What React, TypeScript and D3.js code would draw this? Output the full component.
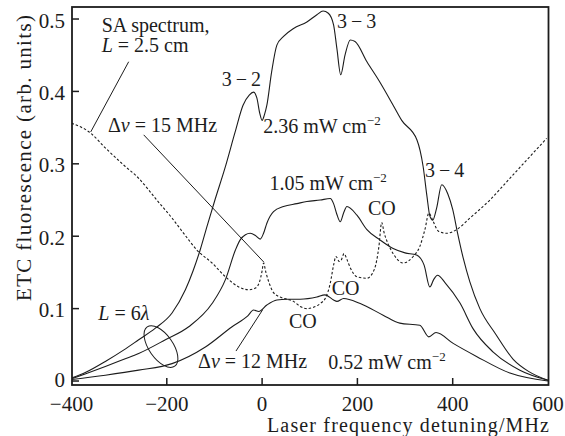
import React from "react";
import * as d3 from "d3";

const W = 565;
const H = 436;

// Axis ticks
const xTickValues = [-400, -200, 0, 200, 400, 600];
const xTickLabels = ["\u2212400", "\u2212200", "0", "200", "400", "600"];
const yTickValues = [0, 0.1, 0.2, 0.3, 0.4, 0.5];
const yTickLabels = ["0", "0.1", "0.2", "0.3", "0.4", "0.5"];

// 2.36 mW cm^-2 curve
const detuning236 = [-400, -370, -329, -290, -259, -224, -189, -161, -145, -130, -115, -99, -78, -57, -40, -27, -18, -11, -5, 0, 5, 10, 20, 31, 45, 66, 94, 115, 128, 139, 150, 157, 165, 174, 185, 195, 220, 247, 275, 293, 325, 338, 346, 352, 358, 366, 377, 390, 400, 410, 422, 436, 457, 490, 527, 560, 600];
const signal236 = [0.004, 0.012, 0.027, 0.043, 0.057, 0.073, 0.094, 0.126, 0.152, 0.181, 0.215, 0.25, 0.294, 0.343, 0.381, 0.395, 0.399, 0.391, 0.37, 0.36, 0.368, 0.381, 0.427, 0.464, 0.476, 0.487, 0.496, 0.506, 0.511, 0.508, 0.492, 0.459, 0.423, 0.45, 0.471, 0.469, 0.441, 0.413, 0.381, 0.36, 0.333, 0.296, 0.255, 0.228, 0.222, 0.238, 0.271, 0.258, 0.237, 0.205, 0.17, 0.137, 0.1, 0.065, 0.03, 0.013, 0.001];

// 1.05 mW cm^-2 curve
const detuning105 = [-400, -370, -329, -290, -259, -203, -154, -105, -77, -56, -46, -35, -25, -14, -4, 3, 10, 24, 45, 73, 94, 122, 143, 150, 157, 164, 171, 178, 199, 220, 247, 275, 300, 324, 340, 352, 360, 368, 385, 415, 443, 485, 541, 600];
const signal105 = [0.003, 0.01, 0.02, 0.03, 0.038, 0.057, 0.075, 0.107, 0.14, 0.181, 0.195, 0.202, 0.204, 0.201, 0.196, 0.204, 0.218, 0.234, 0.241, 0.245, 0.248, 0.25, 0.252, 0.245, 0.23, 0.22, 0.232, 0.241, 0.229, 0.209, 0.195, 0.183, 0.177, 0.174, 0.16, 0.13, 0.14, 0.146, 0.135, 0.108, 0.072, 0.04, 0.015, 0.001];

// 0.52 mW cm^-2 curve
const detuning052 = [-400, -329, -259, -189, -119, -63, -30, -18, -7, 10, 31, 52, 80, 115, 132, 150, 157, 171, 206, 254, 289, 331, 350, 365, 401, 450, 520, 600];
const signal052 = [0.002, 0.008, 0.015, 0.024, 0.047, 0.075, 0.09, 0.098, 0.096, 0.105, 0.112, 0.113, 0.113, 0.116, 0.119, 0.112, 0.11, 0.114, 0.107, 0.091, 0.08, 0.077, 0.061, 0.067, 0.052, 0.034, 0.011, 0.0];

// Saturated absorption (SA) spectrum, L = 2.5 cm (dashed)
const detuningSA = [-400, -361, -329, -290, -259, -221, -189, -160, -137, -105, -77, -49, -28, -15, -6, 0, 3, 8, 15, 24, 38, 52, 66, 80, 94, 108, 122, 134, 143, 150, 155, 162, 166, 172, 178, 186, 199, 220, 236, 245, 251, 256, 264, 275, 296, 317, 331, 342, 350, 358, 370, 387, 408, 436, 478, 520, 548, 597];
const signalSA = [0.356, 0.343, 0.322, 0.298, 0.28, 0.25, 0.225, 0.2, 0.181, 0.163, 0.144, 0.13, 0.126, 0.128, 0.136, 0.152, 0.163, 0.15, 0.135, 0.122, 0.116, 0.113, 0.11, 0.103, 0.1, 0.102, 0.107, 0.116, 0.135, 0.16, 0.172, 0.165, 0.167, 0.176, 0.168, 0.155, 0.144, 0.142, 0.155, 0.185, 0.219, 0.205, 0.19, 0.176, 0.163, 0.172, 0.186, 0.21, 0.232, 0.222, 0.207, 0.204, 0.209, 0.225, 0.25, 0.28, 0.3, 0.335];

const FONT = "'Liberation Serif', 'Times New Roman', 'DejaVu Serif', serif";
const INK = "#1c1c1c";

export default function App() {
  const x = d3.scaleLinear().domain([-400, 600]).range([71.5, 548]);
  const y = d3.scaleLinear().domain([-0.0055, 0.5166]).range([385, 7]);

  const line = d3
    .line<[number, number]>()
    .x((d) => x(d[0]))
    .y((d) => y(d[1]))
    .curve(d3.curveMonotoneX);

  const zip = (a: number[], b: number[]) => a.map((v, i) => [v, b[i]] as [number, number]);

  const curves = [
    { d: line(zip(detuning236, signal236)), dashed: false },
    { d: line(zip(detuning105, signal105)), dashed: false },
    { d: line(zip(detuning052, signal052)), dashed: false },
    { d: line(zip(detuningSA, signalSA)), dashed: true },
  ];

  const fs = 20;
  const sup = (t: string) => (
    <tspan fontSize={13} dy={-8}>
      {t}
    </tspan>
  );

  const leaders = [
    [[-280, 0.441], [-359.7, 0.344]],
    [[-248.5, 0.34], [4, 0.164]],
    [[-54.8, 0.0414], [0.8, 0.098]],
  ];

  const ex = x(-212.2);
  const ey = y(0.0476);

  return (
    <svg
      width={W}
      height={H}
      style={{ position: "absolute", left: 0, top: 0, display: "block", background: "#fff" }}
      fontFamily={FONT}
    >
      <rect x={0} y={0} width={W} height={H} fill="#fff" />
      <defs>
        <clipPath id="clip">
          <rect x={72} y={7} width={476.5} height={378} />
        </clipPath>
      </defs>
      {/* curves */}
      <g clipPath="url(#clip)">
        {curves.map((c, i) => (
          <path
            key={i}
            d={c.d || ""}
            fill="none"
            stroke={INK}
            strokeWidth={1.1}
            strokeDasharray={c.dashed ? "2.5,2" : undefined}
          />
        ))}
      </g>

      {/* frame */}
      <rect x={72} y={7} width={476.5} height={378} fill="none" stroke={INK} strokeWidth={1.8} />

      {/* ticks */}
      {xTickValues.map((t, i) => (
        <g key={"xt" + i}>
          {i > 0 && i < xTickValues.length - 1 && (
            <line x1={x(t)} x2={x(t)} y1={385} y2={378} stroke={INK} strokeWidth={1.5} />
          )}
          <text x={x(t)} y={411} textAnchor="middle" fontSize={21} fill={INK}>
            {xTickLabels[i]}
          </text>
        </g>
      ))}
      {yTickValues.map((t, i) => (
        <g key={"yt" + i}>
          <line x1={72} x2={79} y1={y(t)} y2={y(t)} stroke={INK} strokeWidth={1.5} />
          <text x={65} y={y(t) + (i === 0 ? 6 : 8.5)} textAnchor="end" fontSize={21} fill={INK}>
            {yTickLabels[i]}
          </text>
        </g>
      ))}

      {/* axis titles */}
      <text
        x={549}
        y={432}
        textAnchor="end"
        fontSize={20}
        textLength={282}
        lengthAdjust="spacing"
        fill={INK}
      >
        Laser frequency detuning/MHz
      </text>
      <text
        transform={`translate(31,158) rotate(-90)`}
        textAnchor="middle"
        fontSize={21}
        textLength={286}
        lengthAdjust="spacing"
        fill={INK}
      >
        ETC fluorescence (arb. units)
      </text>

      {/* annotations */}
      <g fontSize={fs} fill={INK}>
        <text x={x(-336.6)} y={y(0.482)}>SA spectrum,</text>
        <text x={x(-336.6)} y={y(0.454)}>
          <tspan fontStyle="italic">L</tspan> = 2.5 cm
        </text>
        <text x={x(-323.4)} y={y(0.344)}>
          Δ<tspan fontStyle="italic">ν</tspan> = 15 MHz
        </text>
        <text x={x(-84.8)} y={y(0.4075)}>3{"\u2009\u2212\u2009"}2</text>
        <text x={x(157.2)} y={y(0.4876)}>3{"\u2009\u2212\u2009"}3</text>
        <text x={x(341.9)} y={y(0.2818)}>3{"\u2009\u2212\u2009"}4</text>
        <text x={x(2.5)} y={y(0.3425)}>
          2.36 mW cm{sup("\u22122")}
        </text>
        <text x={x(15.5)} y={y(0.2638)}>
          1.05 mW cm{sup("\u22122")}
        </text>
        <text x={x(222.2)} y={y(0.2293)}>CO</text>
        <text x={x(146.1)} y={y(0.1188)}>CO</text>
        <text x={x(56.5)} y={y(0.0732)}>CO</text>
        <text x={x(-343.8)} y={y(0.0843)}>
          <tspan fontStyle="italic">L</tspan> = 6<tspan fontStyle="italic">λ</tspan>
        </text>
        <text x={x(-134.5)} y={y(0.018)}>
          Δ<tspan fontStyle="italic">ν</tspan> = 12 MHz
        </text>
        <text x={x(138.9)} y={y(0.0166)}>
          0.52 mW cm{sup("\u22122")}
        </text>
      </g>

      {/* leader lines */}
      {leaders.map((l, i) => (
        <line
          key={"ld" + i}
          x1={x(l[0][0])}
          y1={y(l[0][1])}
          x2={x(l[1][0])}
          y2={y(l[1][1])}
          stroke={INK}
          strokeWidth={1}
        />
      ))}
      <ellipse
        cx={ex}
        cy={ey}
        rx={24}
        ry={12}
        transform={`rotate(55 ${ex} ${ey})`}
        fill="none"
        stroke={INK}
        strokeWidth={1}
      />
    </svg>
  );
}
